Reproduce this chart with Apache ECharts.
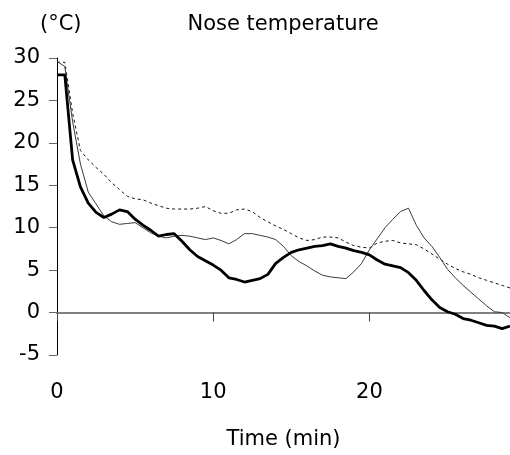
<!DOCTYPE html>
<html>
<head>
<meta charset="utf-8">
<script src="https://cdn.jsdelivr.net/npm/echarts@6/dist/echarts.min.js"></script>
<style>
html,body{margin:0;padding:0;background:#fff;}
#chart{width:510px;height:455px;}
</style>
</head>
<body>
<div id="chart"></div>
<script>
// Time (min), sampled every 0.5 min
const times = [0,0.5,1,1.5,2,2.5,3,3.5,4,4.5,5,5.5,6,6.5,7,7.5,8,8.5,9,9.5,10,10.5,11,11.5,12,12.5,13,13.5,14,14.5,15,15.5,16,16.5,17,17.5,18,18.5,19,19.5,20,20.5,21,21.5,22,22.5,23,23.5,24,24.5,25,25.5,26,26.5,27,27.5,28,28.5,29];
// Thick solid line
const thickTemp = [28.0,28.0,18.0,14.8,12.9,11.8,11.2,11.6,12.1,11.9,11.0,10.3,9.7,9.0,9.2,9.3,8.4,7.4,6.6,6.1,5.6,5.0,4.1,3.9,3.6,3.8,4.0,4.5,5.8,6.5,7.1,7.4,7.6,7.8,7.9,8.1,7.8,7.6,7.3,7.1,6.8,6.2,5.7,5.5,5.3,4.7,3.8,2.6,1.5,0.6,0.1,-0.2,-0.7,-0.9,-1.2,-1.5,-1.6,-1.9,-1.6];
// Thin solid line
const thinTemp = [29.6,29.0,22.5,17.5,14.2,12.8,11.4,10.7,10.4,10.5,10.6,10.0,9.4,9.0,8.8,9.0,9.1,9.0,8.8,8.6,8.8,8.5,8.1,8.6,9.3,9.3,9.1,8.9,8.6,7.8,6.7,6.0,5.5,4.9,4.4,4.2,4.1,4.0,4.8,5.8,7.4,8.7,10.0,11.0,11.9,12.3,10.3,8.8,7.8,6.5,5.1,4.1,3.2,2.4,1.6,0.8,0.1,0.0,-0.6];
// Dashed line
const dashedTemp = [29.5,29.5,23.5,19.1,18.0,17.1,16.3,15.3,14.5,13.7,13.4,13.3,12.9,12.6,12.3,12.2,12.2,12.2,12.3,12.5,12.0,11.7,11.7,12.1,12.2,11.9,11.2,10.7,10.2,9.8,9.3,8.8,8.5,8.6,8.9,8.9,8.8,8.3,7.9,7.7,7.6,8.2,8.4,8.5,8.2,8.1,8.0,7.5,6.9,6.3,5.7,5.2,4.8,4.5,4.1,3.8,3.5,3.2,2.9];
const xTickLabels = [0,10,20];
const yTickLabels = [-5,0,5,10,15,20,25,30];

const FONT = 'DejaVu Sans';
const FS = 21;
const pairs = arr => times.map((t,i)=>[t,arr[i]]);

const chart = echarts.init(document.getElementById('chart'), null, {renderer:'canvas'});
chart.setOption({
  animation:false,
  backgroundColor:'#fff',
  title:[
    {text:'(°C)', left:35, top:9, textStyle:{fontFamily:FONT,fontSize:FS,fontWeight:'normal',color:'#000'}},
    {text:'Nose temperature', left:278, top:9, textAlign:'center', textStyle:{fontFamily:FONT,fontSize:FS,fontWeight:'normal',color:'#000'}}
  ],
  grid:{left:57,right:0,top:58,bottom:47,containLabel:false},
  xAxis:{
    type:'value', min:0, max:29, interval:10,
    name:'Time (min)', nameLocation:'middle', nameGap:74,
    nameTextStyle:{fontFamily:FONT,fontSize:FS,color:'#000'},
    axisLine:{onZero:true,lineStyle:{color:'#808080',width:2}},
    axisTick:{show:true,inside:false,length:9,customValues:xTickLabels,lineStyle:{color:'#444',width:1}},
    axisLabel:{margin:27,customValues:xTickLabels,fontFamily:FONT,fontSize:FS,color:'#000'},
    splitLine:{show:false}
  },
  yAxis:{
    type:'value', min:-5, max:30, interval:5,
    axisLine:{show:true,onZero:false,lineStyle:{color:'#000',width:1}},
    axisTick:{show:true,inside:false,length:8,customValues:yTickLabels,lineStyle:{color:'#666',width:1}},
    axisLabel:{margin:17,customValues:yTickLabels,fontFamily:FONT,fontSize:FS,color:'#000'},
    splitLine:{show:false}
  },
  series:[
    {type:'line',data:pairs(dashedTemp),showSymbol:false,silent:true,
     lineStyle:{color:'#111',width:1,type:[3,3]}},
    {type:'line',data:pairs(thinTemp),showSymbol:false,silent:true,
     lineStyle:{color:'#3a3a3a',width:1}},
    {type:'line',data:pairs(thickTemp),showSymbol:false,silent:true,
     lineStyle:{color:'#000',width:2.8}}
  ]
});
</script>
</body>
</html>
